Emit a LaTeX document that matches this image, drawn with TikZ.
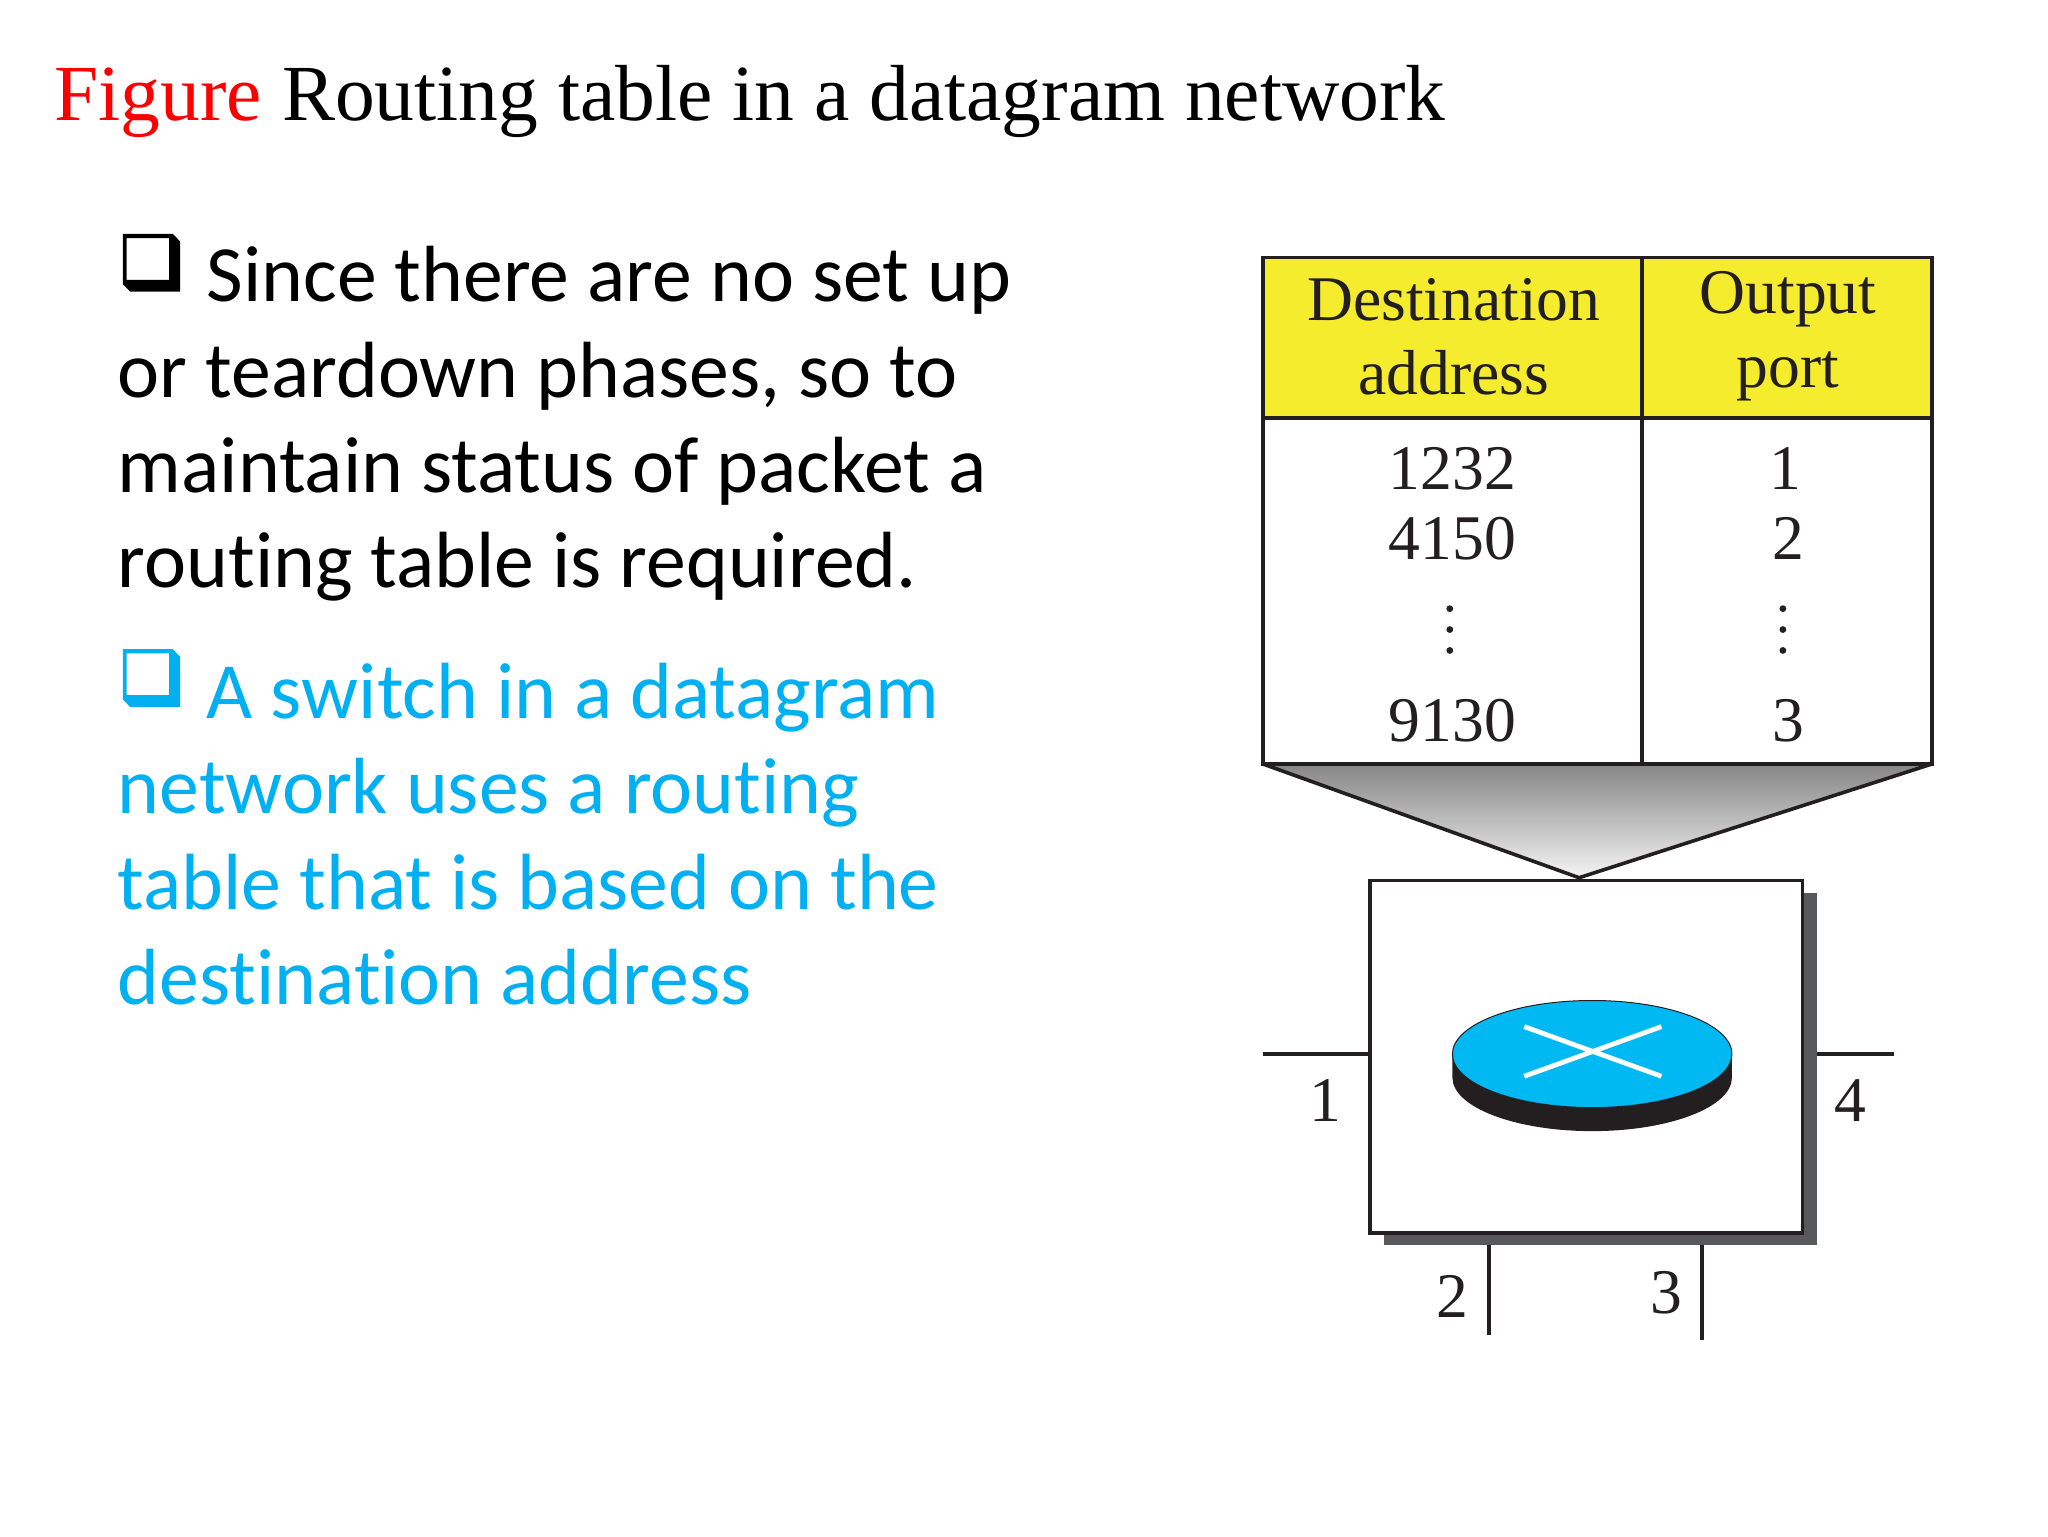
\documentclass[tikz,border=0pt]{standalone}
\usepackage{fontspec}
\setmainfont{Liberation Serif}
\newfontfamily\bodyfont[Ligatures=NoCommon]{Carlito}
\definecolor{titlered}{HTML}{FF0000}
\definecolor{bodyblue}{HTML}{00B0F0}
\definecolor{diskblue}{HTML}{00B9F2}
\definecolor{headyellow}{HTML}{F5EC2E}
\definecolor{shadowgray}{HTML}{58595B}
\definecolor{inkblack}{HTML}{231F20}
\tikzset{
    cell/.style={draw=inkblack, line width=1.8pt, inner sep=0pt, outer sep=0pt},
    tabletext/.style={anchor=base, inner sep=0pt, font=\fontsize{31.8}{31.8}\selectfont, text=inkblack},
    bodyline/.style={anchor=base west, inner sep=0pt, font=\bodyfont\fontsize{39.85}{39.85}\selectfont},
    port/.style={draw=inkblack, line width=2.4pt}
}
\begin{document}
\begin{tikzpicture}[x=0.653061pt, y=-0.653061pt]
    \useasboundingbox (0,0) rectangle (1568,1176);
    \fill[white] (0,0) rectangle (1568,1176);
    % Title
    \node[anchor=base west, inner sep=0pt, font=\fontsize{39.75}{39.75}\selectfont] (title) at (41.5,92) {\textcolor{titlered}{Figure} Routing table in a datagram network};
    % Bullets
    \foreach \b/\y/\c in {a/179/black, b/497/bodyblue} {
        \fill[\c, even odd rule, shift={(94,\y)}] (0,0) -- (38.3,0) -- (43.9,5.9) -- (43.9,44.2) -- (5.6,44.2) -- (0,38.5) -- cycle
            (3,3.3) rectangle (35.5,35.2);
    }
    % Text lines
    \foreach \n/\x/\y/\t in {a/158/231/{Since there are no set up}, b/90/304/{or teardown phases, so to}, c/90/377/{maintain status of packet a}, d/90/450/{routing table is required.}} {
        \node[bodyline] (line\n) at (\x,\y) {\t};
    }
    \foreach \n/\x/\y/\t in {e/158/550/{A switch in a datagram}, f/90/623/{network uses a routing}, g/90/696/{table that is based on the}, h/90/769/{destination address}} {
        \node[bodyline, text=bodyblue] (line\n) at (\x,\y) {\t};
    }
    % Table cells
    \node[cell, fill=headyellow, minimum width=189.4pt, minimum height=80.3pt] (dhead) at (1112,258.5) {};
    \node[cell, fill=headyellow, minimum width=145pt, minimum height=80.3pt] (ohead) at (1368,258.5) {};
    \node[cell, minimum width=189.4pt, minimum height=173pt] (dbody) at (1112,452.5) {};
    \node[cell, minimum width=145pt, minimum height=173pt] (obody) at (1368,452.5) {};
    % Funnel
    \coordinate (apex) at (1209,672);
    \shade[top color=gray!95, bottom color=gray!8] (dbody.south west) -- (obody.south east) -- (apex) -- cycle;
    \draw[inkblack, line width=1.8pt, line join=round] (dbody.south west) -- (apex) -- (obody.south east);
    \draw[inkblack, line width=1.8pt] (dbody.south west) -- (obody.south east);
    % Table text
    \foreach \n/\x/\y/\t in {h1/1113/245/Destination, h2/1113/302/address, h3/1369/240/Output, h4/1369/297/port,
        d1/1112/375/1232, d2/1112/428/4150, d3/1112/568/9130, p1/1367/375/1, p2/1369/428/2, p3/1369/568/3} {
        \node[tabletext] (txt\n) at (\x,\y) {\t};
    }
    % Dots
    \foreach \x in {1110,1365} {
        \foreach \y in {466,482,498} {
            \fill[inkblack] (\x,\y) circle (2.6);
        }
    }
    % Switch
    \node[fill=shadowgray, inner sep=0pt, outer sep=0pt, minimum width=216.2pt, minimum height=176.3pt] (swshadow) at (1225.5,818.5) {};
    \node[cell, fill=white, minimum width=216.2pt, minimum height=176.3pt] (switch) at (1214.5,809) {};
    % Ports
    \coordinate (end1) at (967,807);
    \coordinate (end4) at (1450,807);
    \coordinate (end2) at (1140,1022);
    \coordinate (end3) at (1303,1026);
    \draw[port] (end1) -- (end1 -| switch.west);
    \draw[port] (end4) -- (end4 -| swshadow.east);
    \draw[port, line width=2pt] (end2) -- (end2 |- swshadow.south);
    \draw[port, line width=2pt] (end3) -- (end3 |- swshadow.south);
    \foreach \n/\x/\y in {1/1015/859, 4/1417/859, 2/1112/1009, 3/1276/1006} {
        \node[tabletext] (label\n) at (\x,\y) {\n};
    }
    % Disk
    \fill[inkblack] (1112,807) -- (1112,825) arc[start angle=180, end angle=0, x radius=107, y radius=41] -- (1326,807) -- cycle;
    \fill[diskblue] (1219,807) ellipse[x radius=107, y radius=41];
    \draw[inkblack, line width=0.5pt] (1219,807) ellipse[x radius=107, y radius=41];
    \draw[white, line width=2.4pt] (1167,786) -- (1272,824) (1167,824) -- (1272,786);
\end{tikzpicture}
\end{document}
